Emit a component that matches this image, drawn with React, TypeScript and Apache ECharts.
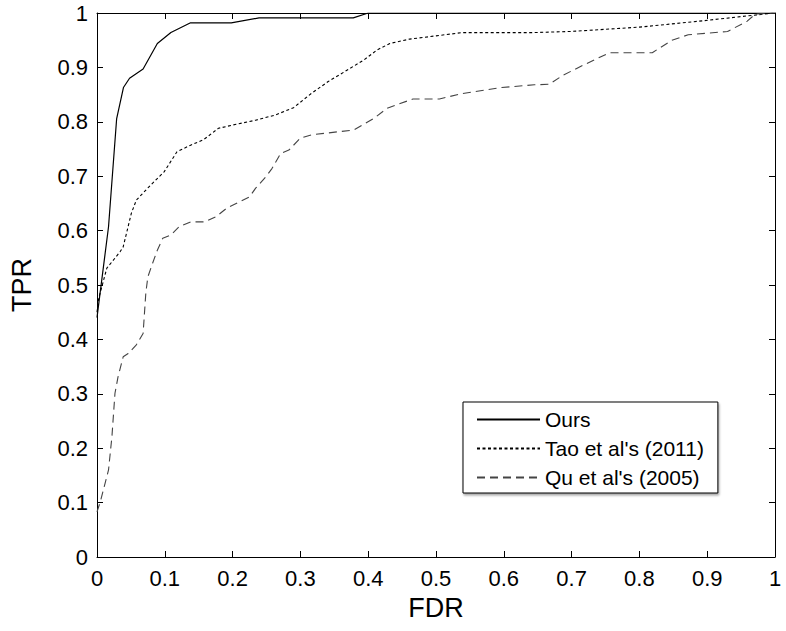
import React, { useEffect, useRef } from "react";
import * as echarts from "echarts";

const seriesNames = ["Ours", "Tao et al's (2011)", "Qu et al's (2005)"];

const oursFDR = [0, 0.003, 0.017, 0.029, 0.039, 0.048, 0.068, 0.089, 0.109, 0.138, 0.198, 0.239, 0.378, 0.4, 1];
const oursTPR = [0.44, 0.47, 0.607, 0.806, 0.863, 0.88, 0.897, 0.944, 0.964, 0.982, 0.982, 0.991, 0.991, 1, 1];

const taoFDR = [0, 0.0024, 0.0145, 0.034, 0.0386, 0.0507, 0.058, 0.077, 0.099, 0.118, 0.138, 0.157, 0.179, 0.2, 0.234, 0.263, 0.29, 0.316, 0.341, 0.365, 0.394, 0.413, 0.432, 0.461, 0.5, 0.539, 0.645, 0.698, 0.8, 0.896, 0.969, 1];
const taoTPR = [0.45, 0.475, 0.531, 0.561, 0.57, 0.632, 0.656, 0.681, 0.708, 0.745, 0.757, 0.767, 0.788, 0.794, 0.803, 0.8125, 0.826, 0.852, 0.874, 0.892, 0.914, 0.932, 0.944, 0.952, 0.958, 0.964, 0.964, 0.966, 0.974, 0.986, 0.996, 1];

const quFDR = [0, 0.005, 0.017, 0.022, 0.0265, 0.031, 0.0386, 0.046, 0.058, 0.068, 0.072, 0.075, 0.082, 0.089, 0.097, 0.109, 0.121, 0.138, 0.159, 0.176, 0.191, 0.225, 0.234, 0.249, 0.258, 0.271, 0.283, 0.3, 0.316, 0.379, 0.408, 0.428, 0.466, 0.505, 0.539, 0.597, 0.645, 0.667, 0.688, 0.717, 0.756, 0.819, 0.848, 0.872, 0.93, 0.959, 0.971, 1];
const quTPR = [0.083, 0.102, 0.16, 0.221, 0.301, 0.331, 0.368, 0.374, 0.39, 0.411, 0.485, 0.515, 0.54, 0.564, 0.586, 0.592, 0.607, 0.616, 0.616, 0.626, 0.641, 0.662, 0.678, 0.699, 0.714, 0.742, 0.748, 0.77, 0.776, 0.785, 0.806, 0.825, 0.842, 0.842, 0.852, 0.863, 0.868, 0.869, 0.886, 0.904, 0.927, 0.927, 0.95, 0.96, 0.966, 0.985, 0.998, 1];

const xTitle = "FDR";
const yTitle = "TPR";

const FONT = "'Liberation Sans', Arial, Helvetica, sans-serif";

const zip = (xs: number[], ys: number[]) => xs.map((x, i) => [x, ys[i]]);

export default function App() {
  const ref = useRef<HTMLDivElement>(null);
  useEffect(() => {
    if (!ref.current) return;
    const chart = echarts.init(ref.current, undefined, { renderer: "svg" });
    const tickCommon = {
      type: "value" as const,
      min: 0,
      max: 1,
      interval: 0.1,
      splitLine: { show: false },
      axisLine: { show: true, onZero: false, lineStyle: { color: "#000", width: 1 } },
      axisTick: { show: true, inside: true, length: 6, lineStyle: { color: "#000", width: 1 } },
    };
    chart.setOption({
      animation: false,
      backgroundColor: "#fff",
      textStyle: { fontFamily: FONT },
      grid: { left: 85, right: 11, top: 13, bottom: 74, containLabel: false },
      legend: {
        orient: "vertical",
        left: 463,
        top: 402,
        padding: [7, 14, 5, 13],
        itemWidth: 63,
        itemHeight: 21,
        itemGap: 8,
        borderColor: "#000",
        borderWidth: 1,
        backgroundColor: "#fff",
        shadowColor: "rgba(0,0,0,0.35)",
        shadowOffsetX: 1,
        shadowOffsetY: 2,
        shadowBlur: 2,
        itemStyle: { opacity: 0 },
        textStyle: { fontSize: 21, color: "#000", fontFamily: FONT, lineHeight: 21 },
        data: seriesNames,
      },
      xAxis: [
        {
          ...tickCommon,
          position: "bottom",
          name: xTitle,
          nameLocation: "middle",
          nameGap: 37,
          nameTextStyle: { fontSize: 27, color: "#000", fontFamily: FONT },
          axisLabel: { show: true, color: "#000", fontSize: 22, margin: 10, fontFamily: FONT },
        },
        {
          ...tickCommon,
          position: "top",
          axisLabel: { show: false },
        },
      ],
      yAxis: [
        {
          ...tickCommon,
          position: "left",
          name: yTitle,
          nameLocation: "middle",
          nameGap: 62,
          nameRotate: 90,
          nameTextStyle: { fontSize: 27, color: "#000", fontFamily: FONT },
          axisLabel: { show: true, color: "#000", fontSize: 22, margin: 9, fontFamily: FONT },
        },
        {
          ...tickCommon,
          position: "right",
          axisLabel: { show: false },
        },
      ],
      series: [
        {
          name: seriesNames[0],
          type: "line",
          symbol: "none",
          data: zip(oursFDR, oursTPR),
          lineStyle: { color: "#000", width: 1.2, type: "solid" },
          itemStyle: { color: "#000" },
        },
        {
          name: seriesNames[1],
          type: "line",
          symbol: "none",
          data: zip(taoFDR, taoTPR),
          lineStyle: { color: "#000", width: 1.1, type: [3, 2.5] },
          itemStyle: { color: "#000" },
        },
        {
          name: seriesNames[2],
          type: "line",
          symbol: "none",
          data: zip(quFDR, quTPR),
          lineStyle: { color: "#444", width: 1.1, type: [8, 5] },
          itemStyle: { color: "#444" },
        },
      ],
    });
    return () => chart.dispose();
  }, []);
  return (
    <div
      ref={ref}
      style={{ position: "fixed", left: 0, top: 0, width: 786, height: 631, background: "#fff" }}
    />
  );
}
